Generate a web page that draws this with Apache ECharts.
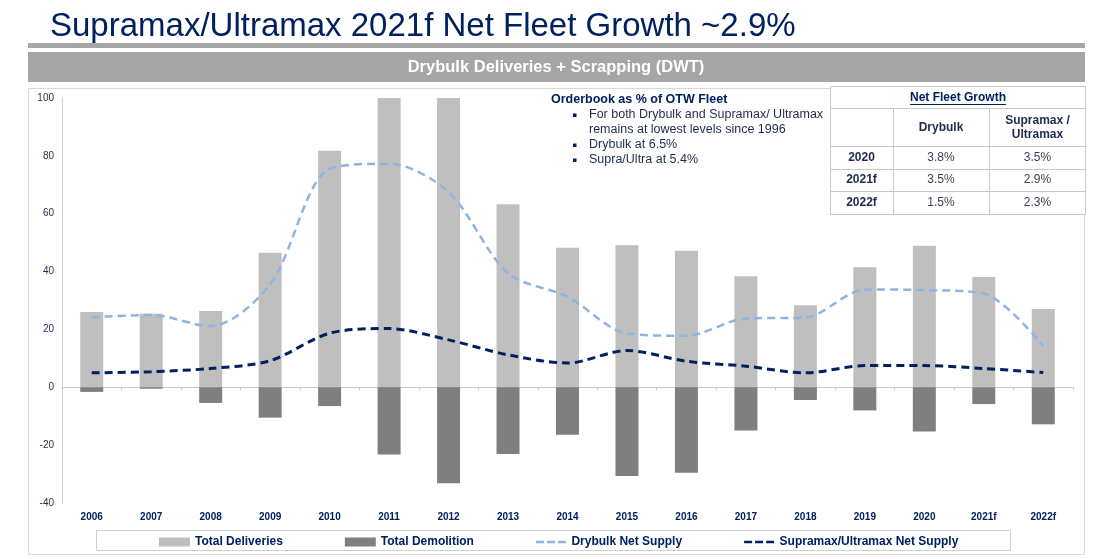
<!DOCTYPE html>
<html lang="en" style="height: 100%">
<head>
  <meta charset="utf-8">
</head>
<body style="height: 100%; margin: 0; background: #fff">
  <div id="container" style="height: 100%"></div>

  <script type="text/javascript" src="https://fastly.jsdelivr.net/npm/echarts@6.0.0/dist/echarts.min.js"></script>
  <script type="text/javascript">
    // chart data
    var years = ['2006', '2007', '2008', '2009', '2010', '2011', '2012', '2013', '2014',
                 '2015', '2016', '2017', '2018', '2019', '2020', '2021f', '2022f'];
    var deliveries = [26, 25.4, 26.4, 46.5, 81.8, 100, 100, 63.3, 48.2,
                      49.1, 47.2, 38.4, 28.4, 41.5, 48.9, 38.1, 27.1];
    var demolition = [-1.6, -0.5, -5.4, -10.5, -6.5, -23.2, -33.2, -23.1, -16.4,
                      -30.7, -29.5, -14.9, -4.4, -8.0, -15.3, -5.8, -12.8];
    var drybulkNet = [24.2, 25, 21.1, 35.6, 75.5, 77.3, 67.5, 39.4, 31.3,
                      18.6, 17.8, 23.8, 24.1, 33.8, 33.6, 32.4, 14.3];
    var supraNet = [5, 5.4, 6.5, 9.2, 18.7, 20.3, 16.4, 11.2, 8.4,
                    12.7, 9.0, 7.3, 5.0, 7.5, 7.5, 6.5, 5.1];

    // side table + notes
    var tableCols = ['Drybulk', 'Supramax /\nUltramax'];
    var tableRows = [
      ['2020', '3.8%', '3.5%'],
      ['2021f', '3.5%', '2.9%'],
      ['2022f', '1.5%', '2.3%']
    ];
    var notes = [
      'For both Drybulk and Supramax/ Ultramax\nremains at lowest levels since 1996',
      'Drybulk at 6.5%',
      'Supra/Ultra at 5.4%'
    ];

    var FONT = '"Liberation Sans", Arial, sans-serif';
    var NAVY = '#002060';
    var INK = '#1F2A4E';
    // three short dashes, the two empty moves keep the icon box 30x9
    var DASH_ICON = 'path://M0,0L0,0M30,9L30,9M0,3.3H8V5.7H0ZM11,3.3H19V5.7H11ZM22,3.3H30V5.7H22Z';

    var dom = document.getElementById('container');
    var myChart = echarts.init(dom, null, { renderer: 'canvas' });

    // header bands, frame, notes, table
    var graphics = [
      { type: 'rect', shape: { x: 28, y: 43, width: 1057, height: 5 }, style: { fill: '#A6A6A6' }, z: -1 },
      { type: 'rect', shape: { x: 28, y: 52, width: 1057, height: 30 }, style: { fill: '#A6A6A6' }, z: -1 },
      { type: 'text', x: 556, y: 67, style: { text: 'Drybulk Deliveries + Scrapping (DWT)', fill: '#fff',
          font: 'bold 16.5px ' + FONT, align: 'center', verticalAlign: 'middle' } },
      { type: 'rect', shape: { x: 28.5, y: 88.5, width: 1056, height: 466 }, style: { fill: 'none', stroke: '#D9D9D9', lineWidth: 1 }, z: -1 },
      { type: 'rect', shape: { x: 96.5, y: 530.5, width: 914, height: 20 }, style: { fill: 'none', stroke: '#D0D0D0', lineWidth: 1 } },
      { type: 'text', x: 551, y: 100, style: { text: 'Orderbook as % of OTW Fleet', fill: NAVY,
          font: 'bold 12.5px ' + FONT, verticalAlign: 'middle' } }
    ];
    var noteY = [115, 145, 160];
    notes.forEach(function (t, i) {
      graphics.push({ type: 'rect', shape: { x: 573, y: noteY[i] - 1.5, width: 3.5, height: 3.5 }, style: { fill: NAVY } });
      graphics.push({ type: 'text', x: 589, y: noteY[i] - 7.5, style: { text: t, fill: INK,
          font: '12.5px ' + FONT, lineHeight: 15 } });
    });

    // table
    var tx = [830, 893, 989, 1086];
    var ty = [86, 108, 146, 169, 191, 214];
    var gridC = '#C8C8C8';
    graphics.push({ type: 'rect', shape: { x: 830.5, y: 86.5, width: 255, height: 128 }, style: { fill: '#fff', stroke: gridC, lineWidth: 1 } });
    for (var i = 1; i < ty.length - 1; i++) {
      graphics.push({ type: 'line', shape: { x1: 830, y1: ty[i] + 0.5, x2: 1086, y2: ty[i] + 0.5 }, style: { stroke: gridC, lineWidth: 1 } });
    }
    [1, 2].forEach(function (c) {
      graphics.push({ type: 'line', shape: { x1: tx[c] + 0.5, y1: ty[1], x2: tx[c] + 0.5, y2: ty[5] }, style: { stroke: gridC, lineWidth: 1 } });
    });
    graphics.push({ type: 'text', x: 958, y: 98, style: { text: 'Net Fleet Growth', fill: NAVY,
        font: 'bold 12px ' + FONT, align: 'center', verticalAlign: 'middle' } });
    graphics.push({ type: 'line', shape: { x1: 910, y1: 104.5, x2: 1006, y2: 104.5 }, style: { stroke: NAVY, lineWidth: 1 } });
    tableCols.forEach(function (t, c) {
      graphics.push({ type: 'text', x: (tx[c + 1] + tx[c + 2]) / 2, y: 128, style: { text: t, fill: INK,
          font: 'bold 12px ' + FONT, align: 'center', verticalAlign: 'middle', lineHeight: 14 } });
    });
    tableRows.forEach(function (row, r) {
      row.forEach(function (t, c) {
        graphics.push({ type: 'text', x: (tx[c] + tx[c + 1]) / 2, y: (ty[r + 2] + ty[r + 3]) / 2, style: { text: t,
            fill: c === 0 ? INK : '#3A3F55', font: (c === 0 ? 'bold ' : '') + '12px ' + FONT,
            align: 'center', verticalAlign: 'middle' } });
      });
    });

    var option = {
      animation: false,
      title: {
        text: 'Supramax/Ultramax 2021f Net Fleet Growth ~2.9%',
        left: 45,
        top: 5,
        textStyle: { fontFamily: FONT, fontSize: 33, fontWeight: 'normal', color: NAVY }
      },
      legend: {
        left: 154,
        top: 531,
        itemGap: 62,
        itemWidth: 31,
        itemHeight: 9,
        textStyle: { fontFamily: FONT, fontSize: 12, fontWeight: 'bold', color: NAVY },
        data: [
          { name: 'Total Deliveries', icon: 'rect' },
          { name: 'Total Demolition', icon: 'rect' },
          { name: 'Drybulk Net Supply', icon: DASH_ICON },
          { name: 'Supramax/Ultramax Net Supply', icon: DASH_ICON }
        ]
      },
      grid: { left: 62, right: 33, top: 98, bottom: 56 },
      xAxis: [
        {
          type: 'category',
          data: years,
          axisLine: { show: false, onZero: false },
          axisTick: { show: false },
          axisLabel: { margin: 9, fontFamily: FONT, fontSize: 10, fontWeight: 'bold', color: NAVY }
        },
        {
          type: 'category',
          data: years,
          position: 'bottom',
          axisLine: { onZero: true, lineStyle: { color: '#C8C8C8' } },
          axisTick: { show: true, length: 3, lineStyle: { color: '#C8C8C8' } },
          axisLabel: { show: false }
        }
      ],
      yAxis: {
        type: 'value',
        min: -40,
        max: 100,
        interval: 20,
        axisLine: { show: true, lineStyle: { color: '#D0D0D0' } },
        axisTick: { show: false },
        splitLine: { show: false },
        axisLabel: { margin: 8, fontFamily: FONT, fontSize: 10, color: INK }
      },
      series: [
        {
          name: 'Total Deliveries', type: 'bar', data: deliveries, barWidth: 23, barGap: '-100%',
          itemStyle: { color: '#BFBFBF' }
        },
        {
          name: 'Total Demolition', type: 'bar', data: demolition, barWidth: 23,
          itemStyle: { color: '#7F7F7F' }
        },
        {
          name: 'Drybulk Net Supply', type: 'line', data: drybulkNet, smooth: 0.3, symbol: 'none',
          lineStyle: { color: '#8EB4E3', width: 2.5, type: [8, 5] }, itemStyle: { color: '#8EB4E3' }
        },
        {
          name: 'Supramax/Ultramax Net Supply', type: 'line', data: supraNet, smooth: 0.3, symbol: 'none',
          lineStyle: { color: NAVY, width: 3, type: [8, 5] }, itemStyle: { color: NAVY }
        }
      ],
      graphic: graphics
    };

    myChart.setOption(option);
    window.addEventListener('resize', myChart.resize);
  </script>
</body>
</html>
